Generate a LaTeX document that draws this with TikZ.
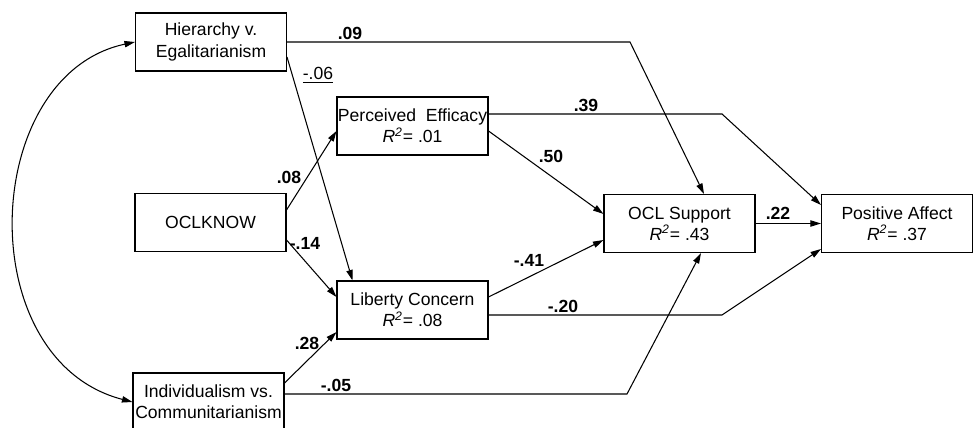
\documentclass[tikz,border=0pt]{standalone}
\usepackage{fontspec}
\setmainfont{Liberation Sans}
\usetikzlibrary{arrows.meta,positioning,calc}
\tikzset{vbox/.style={draw, line width=0.6pt, minimum width=3.02cm, minimum height=1.16cm, inner sep=0pt, align=center, font=\fontsize{10}{12}\selectfont}}
\tikzset{arr/.style={draw, line width=0.6pt, -{Triangle[length=6pt, width=3.6pt]}}}
\tikzset{coef/.style={inner sep=0pt, font=\fontsize{10}{12}\selectfont\bfseries}}
\newcommand{\rsq}[1]{\textit{R}\textsuperscript{\textit{2}}= #1}

\begin{document}
\begin{tikzpicture}[x=0.02cm, y=-0.02cm]
                \useasboundingbox (0,0) rectangle (973,428);
                \node[vbox] (H) at (211,42) {Hierarchy v.\\Egalitarianism};
                \node[vbox] (E) at (412.5,126) {Perceived\ \ Efficacy\\\rsq{.01}};
                \node[vbox] (K) at (210.5,222.5) {OCLKNOW};
                \node[vbox] (L) at (412.5,310) {Liberty Concern\\\rsq{.08}};
                \node[vbox] (I) at (208.5,402) {Individualism vs.\\Communitarianism};
                \node[vbox] (S) at (679.5,223.5) {OCL Support\\\rsq{.43}};
                \node[vbox] (A) at (897,223.5) {Positive Affect\\\rsq{.37}};

                \coordinate (bH) at (630,42);
                \coordinate (bI) at (627,394);
                \coordinate (bE) at (722,114);
                \coordinate (bL) at (722,315);

                \draw[arr] (H.east) -- (bH) -- ($(S.north)+(24.5,0)$);
                \draw[arr] ($(H.east)+(0,15)$) -- ($(L.north west)+(16,0)$);
                \draw[arr] ($(K.east)+(0,-12.5)$) -- ($(E.west)+(0,5)$);
                \draw[arr] ($(K.east)+(0,17.5)$) -- ($(L.west)+(0,-13)$);
                \draw[arr] ($(I.east)+(0,-19)$) -- ($(L.west)+(0,22)$);
                \draw[arr] ($(I.east)+(0,-8)$) -- (bI) -- ($(S.south)+(21.5,0)$);
                \draw[arr] ($(E.east)+(0,-12)$) -- (bE) -- ($(A.west)+(0,-18.5)$);
                \draw[arr] ($(E.east)+(0,5)$) -- ($(S.west)+(0,-9.5)$);
                \draw[arr] ($(L.east)+(0,-13)$) -- ($(S.west)+(0,16.5)$);
                \draw[arr] ($(L.east)+(0,5)$) -- (bL) -- ($(A.west)+(0,25.5)$);
                \draw[arr] (S.east) -- (A.west);
                \draw[arr, {Triangle[length=6pt, width=3.6pt]}-{Triangle[length=6pt, width=3.6pt]}] (H.west) .. controls (-20,75) and (-30,360) .. (I.west);

                \node[coef] (c1) at (350,33) {.09};
                \node[coef, font=\fontsize{10}{12}\selectfont] (c2) at (318,75) {\underline{-.06}};
                \node[coef] (c3) at (289,177) {.08};
                \node[coef] (c4) at (305,243) {-.14};
                \node[coef] (c5) at (307,343) {.28};
                \node[coef] (c6) at (336,385) {-.05};
                \node[coef] (c7) at (586,105) {.39};
                \node[coef] (c8) at (551,156) {.50};
                \node[coef] (c9) at (529,260) {-.41};
                \node[coef] (c10) at (563,306) {-.20};
                \node[coef] (c11) at (778,213) {.22};
            \end{tikzpicture}
\end{document}
